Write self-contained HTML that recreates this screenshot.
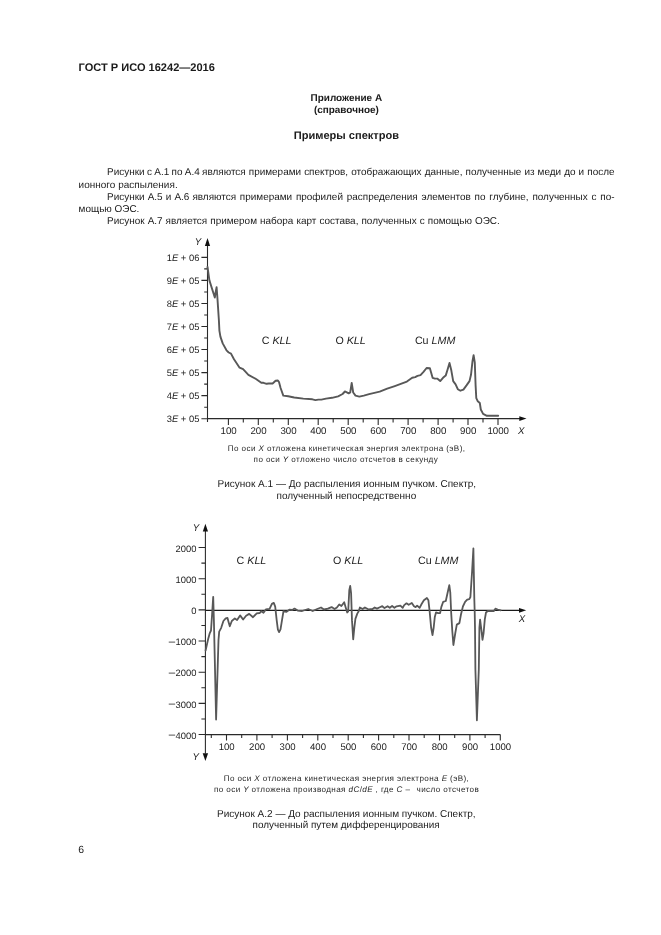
<!DOCTYPE html>
<html lang="ru"><head><meta charset="utf-8"><title>ГОСТ Р ИСО 16242—2016</title>
<style>
html,body{margin:0;padding:0;background:#fff;}
body{text-rendering:geometricPrecision;width:661px;height:935px;position:relative;overflow:hidden;font-family:"Liberation Sans",sans-serif;color:#1a1a1a;}
.t{position:absolute;white-space:nowrap;line-height:1;}
.c{left:0;width:661px;text-align:center;}
.b{font-weight:bold;}
.p{font-size:9.95px;}
.j{text-align:justify;text-align-last:justify;white-space:normal;}
.n{font-size:8.1px;color:#262626;letter-spacing:0.4px;}
.cap{font-size:10px;}
svg{position:absolute;left:0;top:0;}
svg text{font-family:"Liberation Sans",sans-serif;fill:#222;}
</style></head><body>
<div class="t b" style="left:78.6px;top:62.75px;font-size:11.05px;">ГОСТ Р ИСО 16242—2016</div>
<div class="t b" style="left:310.6px;top:93.73px;font-size:9.95px;">Приложение А</div>
<div class="t b" style="left:313.9px;top:105.73px;font-size:9.95px;">(справочное)</div>
<div class="t b" style="left:293.8px;top:130.75px;font-size:11.05px;">Примеры спектров</div>

<div class="t p j" style="left:107.1px;width:507.4px;top:167.78px;"><span style="word-spacing:-0.75px">Рисунки с А.1 по А.4 </span>являются примерами спектров, отображающих данные, полученные из меди до и после</div>
<div class="t p" style="left:78.6px;top:180.78px;letter-spacing:0.04px;">ионного распыления.</div>
<div class="t p j" style="left:107.1px;width:507.4px;top:192.63px;"><span style="word-spacing:-0.7px">Рисунки А.5 и А.6 </span>являются примерами профилей распределения элементов по глубине, полученных с по-</div>
<div class="t p" style="left:78.6px;top:204.78px;">мощью ОЭС.</div>
<div class="t p" style="left:107.1px;top:216.68px;word-spacing:0.3px;">Рисунок А.7 является примером набора карт состава, полученных с помощью ОЭС.</div>

<div class="t n" style="left:227.8px;top:444.5px;letter-spacing:0.40px;">По оси <i>X</i> отложена кинетическая энергия электрона (эВ),</div>
<div class="t n" style="left:253.6px;top:455.85px;">по оси <i>Y</i> отложено число отсчетов в секунду</div>
<div class="t cap" style="left:217.6px;top:479.8px;">Рисунок А.1 — До распыления ионным пучком. Спектр,</div>
<div class="t cap" style="left:276.5px;top:491.75px;">полученный непосредственно</div>

<div class="t n" style="left:223.7px;top:774.80px;letter-spacing:0.39px;">По оси <i>X</i> отложена кинетическая энергия электрона <i>E</i> (эВ),</div>
<div class="t n" style="left:214px;top:785.85px;letter-spacing:0.39px;">по оси <i>Y</i> отложена производная <i>dC</i>/<i>dE</i> , где <i>C</i> <span style="margin-right:3.6px">–</span> число отсчетов</div>
<div class="t cap" style="left:217.1px;top:809.85px;">Рисунок А.2 — До распыления ионным пучком. Спектр,</div>
<div class="t cap" style="left:252.6px;top:821.45px;font-size:9.92px;">полученный путем дифференцирования</div>
<div class="t" style="left:78.2px;top:845.60px;font-size:10.4px;">6</div>

<svg width="661" height="935" viewBox="0 0 661 935">
<g fill="none" stroke="#2a2a2a" stroke-width="1.08">
<path d="M207.5 245V418.6H520"/>
<path d="M201.4 257.35H207.5M204.2 268.87H207.5M201.4 280.40H207.5M204.2 291.92H207.5M201.4 303.45H207.5M204.2 314.97H207.5M201.4 326.50H207.5M204.2 338.02H207.5M201.4 349.55H207.5M204.2 361.07H207.5M201.4 372.60H207.5M204.2 384.12H207.5M201.4 395.65H207.5M204.2 407.17H207.5M201.4 418.70H207.5M228.4 418.6v6.3M243.3 418.6v3.8M258.3 418.6v6.3M273.3 418.6v3.8M288.3 418.6v6.3M303.3 418.6v3.8M318.2 418.6v6.3M333.2 418.6v3.8M348.2 418.6v6.3M363.2 418.6v3.8M378.2 418.6v6.3M393.1 418.6v3.8M408.1 418.6v6.3M423.1 418.6v3.8M438.1 418.6v6.3M453.1 418.6v3.8M468.0 418.6v6.3M483.0 418.6v3.8M498.0 418.6v6.3M207.5 418.6v3.5"/>
<path d="M205.4 531V753.5M205.4 734.6H500.3"/>
<path d="M205.4 610.35H519" stroke-width="1.1" stroke="#1a1a1a"/>
<path d="M198.6 547.50H205.4M201.4 563.09H205.4M198.6 578.68H205.4M201.4 594.27H205.4M198.6 609.86H205.4M201.4 625.45H205.4M198.6 641.04H205.4M201.4 656.63H205.4M198.6 672.22H205.4M201.4 687.81H205.4M198.6 703.40H205.4M201.4 718.99H205.4M198.6 734.58H205.4M211.3 734.6v3.5M226.5 734.6v6M241.7 734.6v3.5M256.9 734.6v6M272.1 734.6v3.5M287.4 734.6v6M302.6 734.6v3.5M317.8 734.6v6M333.0 734.6v3.5M348.2 734.6v6M363.4 734.6v3.5M378.6 734.6v6M393.8 734.6v3.5M409.0 734.6v6M424.2 734.6v3.5M439.5 734.6v6M454.7 734.6v3.5M469.9 734.6v6M485.1 734.6v3.5M500.3 734.6v6"/>
</g>
<g fill="#111">
<path d="M207.5 238l2.6 8h-5.2z"/>
<path d="M526.5 418.6l-7.2 -2.4v4.8z"/>
<path d="M205.4 523.8l2.6 7.8h-5.2z"/>
<path d="M205.4 760.9l2.7 -7.6h-5.4z"/>
<path d="M526.2 610.35l-7.2 -2.4v4.8z"/>
</g>
<g fill="none" stroke="#585858" stroke-width="1.9" stroke-linejoin="round" stroke-linecap="round">
<polyline points="207.5,267.0 209.4,280.4 214.8,297.5 215.6,292.5 216.6,287.2 217.4,297.8 218.9,320.5 219.4,330.6 220.4,336.6 222.7,343.4 226.5,350.3 228.7,352.5 231.0,353.6 234.0,359.3 239.6,367.7 243.1,369.2 248.4,374.8 256.0,379.0 261.3,382.8 263.5,382.8 266.6,383.8 268.8,383.5 272.6,383.5 275.6,380.8 277.9,380.5 279.0,382.0 280.6,388.0 283.3,395.6 288.2,396.3 294.2,397.5 303.3,398.6 312.4,399.3 315.4,400.1 318.4,399.6 321.4,399.6 326.0,398.6 332.0,397.8 338.1,396.3 342.6,394.0 344.9,391.5 346.4,392.1 348.7,393.3 350.2,392.5 351.7,383.0 353.2,392.5 355.5,395.6 359.3,396.6 363.8,395.6 369.1,394.2 379.7,391.7 387.2,388.7 394.8,386.1 400.8,383.9 406.9,381.6 412.2,377.8 415.2,377.1 417.5,375.9 420.5,375.1 423.5,371.8 426.6,368.0 429.9,368.3 431.1,372.5 432.6,377.8 434.9,378.6 437.2,378.6 440.2,381.1 443.0,377.8 445.7,375.6 447.6,369.5 449.5,363.0 451.3,370.3 453.2,381.2 455.6,384.3 457.8,389.2 460.4,390.7 463.4,389.6 466.5,385.4 469.5,381.1 471.0,374.8 472.5,361.2 473.6,355.1 474.8,362.7 475.6,385.4 476.3,398.2 477.8,401.3 479.8,403.0 480.8,409.5 483.1,413.9 486.9,415.8 498.2,415.8"/>
<polyline points="205.6,650.5 208.3,638.4 209.8,633.1 211.0,630.5 212.1,614.2 213.2,596.8 213.9,620.3 214.8,660.0 216.1,719.5 217.9,660.0 218.5,640.0 219.2,631.6 221.2,627.8 223.4,621.0 225.7,618.4 227.5,618.0 228.7,622.5 229.8,626.3 231.8,621.0 234.8,618.4 237.1,620.0 240.1,615.4 243.1,619.5 246.1,615.7 249.2,613.9 253.0,617.2 256.7,613.4 259.8,613.0 261.3,611.2 263.5,612.7 265.8,609.4 269.6,608.9 271.9,603.9 273.8,602.9 275.2,606.6 276.7,620.3 277.9,629.6 279.1,632.1 280.5,629.3 282.5,617.2 283.5,611.2 286.2,611.9 289.3,609.7 292.3,610.0 294.5,608.6 297.6,610.6 302.1,611.0 308.2,609.0 312.7,611.0 317.2,609.0 321.0,607.5 324.0,609.5 327.8,608.6 331.6,607.1 334.6,609.0 336.9,607.5 339.2,604.5 341.4,606.0 344.2,602.2 345.7,607.5 347.2,612.5 348.2,611.3 349.3,590.1 350.2,585.9 351.1,593.2 352.0,620.4 353.2,639.3 354.3,628.0 355.4,618.9 357.3,613.6 358.8,611.0 359.9,607.5 362.6,609.0 364.9,607.5 368.7,609.5 372.5,609.0 374.7,607.5 377.0,608.6 379.3,607.5 382.3,606.2 384.5,608.1 387.6,606.2 389.8,607.8 392.1,606.0 394.4,607.8 396.6,606.3 400.4,605.6 402.7,607.8 404.2,605.1 406.5,603.3 408.7,604.8 411.8,603.0 414.0,606.3 415.6,607.1 417.1,605.6 419.6,607.8 421.6,604.0 423.9,600.3 426.9,598.0 428.4,600.3 429.6,610.8 431.1,627.5 432.5,635.0 433.7,627.5 434.8,616.9 436.0,612.4 438.2,613.1 440.1,613.1 441.3,607.1 443.2,601.8 445.8,601.0 447.6,592.7 449.3,585.1 450.3,592.7 451.2,613.0 452.3,631.0 453.4,645.0 455.3,633.0 456.8,624.6 459.4,623.1 460.9,614.8 462.9,606.5 465.1,601.9 467.2,599.6 469.3,599.2 470.4,597.0 472.1,571.3 473.4,548.4 473.8,571.3 474.3,598.5 474.7,612.0 475.0,627.8 475.4,669.4 476.9,720.3 478.8,669.4 479.2,641.7 479.4,627.8 480.1,619.6 481.4,630.0 482.5,639.8 483.6,633.0 484.8,619.3 486.0,612.5 487.8,611.0 490.8,611.0 493.9,611.0 495.4,608.7 497.7,609.5 500.7,610.3" stroke-width="1.8"/>
</g>
<g font-size="9.4" text-anchor="end">
<text x="199.4" y="260.8">1<tspan font-style="italic">E</tspan> + 06</text>
<text x="199.4" y="283.8">9<tspan font-style="italic">E</tspan> + 05</text>
<text x="199.4" y="306.9">8<tspan font-style="italic">E</tspan> + 05</text>
<text x="199.4" y="329.9">7<tspan font-style="italic">E</tspan> + 05</text>
<text x="199.4" y="352.9">6<tspan font-style="italic">E</tspan> + 05</text>
<text x="199.4" y="376.0">5<tspan font-style="italic">E</tspan> + 05</text>
<text x="199.4" y="399.1">4<tspan font-style="italic">E</tspan> + 05</text>
<text x="199.4" y="422.1">3<tspan font-style="italic">E</tspan> + 05</text>
</g>
<g font-size="9.7" text-anchor="middle">
<text x="228.6" y="433.6">100</text>
<text x="258.5" y="433.6">200</text>
<text x="288.5" y="433.6">300</text>
<text x="318.4" y="433.6">400</text>
<text x="348.4" y="433.6">500</text>
<text x="378.4" y="433.6">600</text>
<text x="408.3" y="433.6">700</text>
<text x="438.3" y="433.6">800</text>
<text x="468.2" y="433.6">900</text>
<text x="498.2" y="433.6">1000</text>
<text x="226.7" y="749.7" font-size="9.6">100</text>
<text x="257.1" y="749.7" font-size="9.6">200</text>
<text x="287.6" y="749.7" font-size="9.6">300</text>
<text x="318.0" y="749.7" font-size="9.6">400</text>
<text x="348.4" y="749.7" font-size="9.6">500</text>
<text x="378.8" y="749.7" font-size="9.6">600</text>
<text x="409.2" y="749.7" font-size="9.6">700</text>
<text x="439.7" y="749.7" font-size="9.6">800</text>
<text x="470.1" y="749.7" font-size="9.6">900</text>
<text x="500.5" y="749.7" font-size="9.6">1000</text>
</g>
<g font-size="9.4" text-anchor="end">
<text x="196.4" y="551.6">2000</text>
<text x="196.4" y="582.8">1000</text>
<text x="196.4" y="614.0">0</text>
<text x="196.4" y="645.1">1000</text>
<text x="175.2" y="644.8" font-size="11.5">–</text>
<text x="196.4" y="676.3">2000</text>
<text x="175.2" y="676.0" font-size="11.5">–</text>
<text x="196.4" y="707.5">3000</text>
<text x="175.2" y="707.2" font-size="11.5">–</text>
<text x="196.4" y="738.7">4000</text>
<text x="175.2" y="738.4" font-size="11.5">–</text>
</g>
<g font-size="9.7" font-style="italic">
<text x="194.8" y="245.4">Y</text>
<text x="518" y="433.5">X</text>
<text x="192.8" y="530.9">Y</text>
<text x="192.6" y="759.6">Y</text>
<text x="518.8" y="621.6">X</text>
</g>
<g font-size="10.7">
<text x="261.7" y="343.9">C <tspan font-style="italic">KLL</tspan></text>
<text x="335.4" y="343.9">O <tspan font-style="italic">KLL</tspan></text>
<text x="414.9" y="343.9">Cu <tspan font-style="italic">LMM</tspan></text>
<text x="236.6" y="563.6">C <tspan font-style="italic">KLL</tspan></text>
<text x="333" y="563.6">O <tspan font-style="italic">KLL</tspan></text>
<text x="418" y="563.6">Cu <tspan font-style="italic">LMM</tspan></text>
</g>
</svg>
</body></html>
